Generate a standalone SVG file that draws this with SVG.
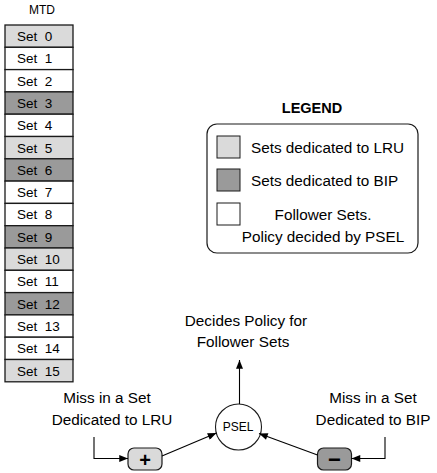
<svg xmlns="http://www.w3.org/2000/svg" width="437" height="473" viewBox="0 0 437 473">
<defs>
<marker id="arr" viewBox="0 0 10 8" refX="10" refY="4" markerWidth="10" markerHeight="7" markerUnits="userSpaceOnUse" orient="auto">
<path d="M0,0 L10,4 L0,8 Z" fill="#000"/>
</marker>
<style>
text{font-family:"Liberation Sans",Arial,Helvetica,sans-serif;fill:#000}
.cell text{font-size:13.5px;white-space:pre}
.cell rect{stroke:#1a1a1a;stroke-width:1.3}
.lt{fill:#dadada}
.dk{fill:#9a9a9a}
.wh{fill:#fff}
.body{font-size:15.3px}
.mid{text-anchor:middle}
.conn{fill:none;stroke:#000;stroke-width:1.1;marker-end:url(#arr)}
</style>
</defs>
<rect width="437" height="473" fill="#fff"/>
<text x="42" y="14" class="mid" style="font-size:12px">MTD</text>
<g id="mtd">
<g id="set0" class="cell"><rect x="5" y="25" width="68" height="22.3" class="lt"/><text x="17" y="41">Set  0</text></g>
<g id="set1" class="cell"><rect x="5" y="47.3" width="68" height="22.3" class="wh"/><text x="17" y="63.3">Set  1</text></g>
<g id="set2" class="cell"><rect x="5" y="69.6" width="68" height="22.3" class="wh"/><text x="17" y="85.6">Set  2</text></g>
<g id="set3" class="cell"><rect x="5" y="91.9" width="68" height="22.3" class="dk"/><text x="17" y="107.9">Set  3</text></g>
<g id="set4" class="cell"><rect x="5" y="114.2" width="68" height="22.3" class="wh"/><text x="17" y="130.2">Set  4</text></g>
<g id="set5" class="cell"><rect x="5" y="136.5" width="68" height="22.3" class="lt"/><text x="17" y="152.5">Set  5</text></g>
<g id="set6" class="cell"><rect x="5" y="158.8" width="68" height="22.3" class="dk"/><text x="17" y="174.8">Set  6</text></g>
<g id="set7" class="cell"><rect x="5" y="181.1" width="68" height="22.3" class="wh"/><text x="17" y="197.1">Set  7</text></g>
<g id="set8" class="cell"><rect x="5" y="203.4" width="68" height="22.3" class="wh"/><text x="17" y="219.4">Set  8</text></g>
<g id="set9" class="cell"><rect x="5" y="225.7" width="68" height="22.3" class="dk"/><text x="17" y="241.7">Set  9</text></g>
<g id="set10" class="cell"><rect x="5" y="248" width="68" height="22.3" class="lt"/><text x="17" y="264">Set  10</text></g>
<g id="set11" class="cell"><rect x="5" y="270.3" width="68" height="22.3" class="wh"/><text x="17" y="286.3">Set  11</text></g>
<g id="set12" class="cell"><rect x="5" y="292.6" width="68" height="22.3" class="dk"/><text x="17" y="308.6">Set  12</text></g>
<g id="set13" class="cell"><rect x="5" y="314.9" width="68" height="22.3" class="wh"/><text x="17" y="330.9">Set  13</text></g>
<g id="set14" class="cell"><rect x="5" y="337.2" width="68" height="22.3" class="wh"/><text x="17" y="353.2">Set  14</text></g>
<g id="set15" class="cell"><rect x="5" y="359.5" width="68" height="22.3" class="lt"/><text x="17" y="375.5">Set  15</text></g>
</g>
<g id="legend">
<text x="312" y="113" class="mid" style="font-size:14.5px;font-weight:bold">LEGEND</text>
<rect x="207" y="124" width="211" height="129" rx="10" fill="#fff" stroke="#1a1a1a" stroke-width="1.2"/>
<rect x="217" y="136" width="23" height="22" class="lt" stroke="#1a1a1a" stroke-width="1"/>
<rect x="217" y="169" width="23" height="22" class="dk" stroke="#1a1a1a" stroke-width="1"/>
<rect x="217" y="203" width="23" height="22" class="wh" stroke="#1a1a1a" stroke-width="1"/>
<text x="251" y="153" class="body">Sets dedicated to LRU</text>
<text x="251" y="186" class="body">Sets dedicated to BIP</text>
<text x="323" y="220" class="body mid">Follower Sets.</text>
<text x="323" y="242" class="body mid">Policy decided by PSEL</text>
</g>
<g id="psel">
<circle cx="238.5" cy="427" r="23" fill="#fff" stroke="#1a1a1a" stroke-width="1.1"/>
<text x="238" y="431" class="mid" style="font-size:12px">PSEL</text>
</g>
<g id="inc">
<rect x="128" y="448" width="34" height="22" rx="6" class="lt" stroke="#1a1a1a" stroke-width="1.2"/>
<text x="145" y="466.5" class="mid" style="font-size:20px;font-weight:bold">+</text>
</g>
<g id="dec">
<rect x="317.5" y="448" width="34" height="22" rx="6" class="dk" stroke="#1a1a1a" stroke-width="1.2"/>
<text x="334.5" y="467" class="mid" style="font-size:22px;font-weight:bold">−</text>
</g>
<g id="labels">
<text x="246" y="326" class="body mid">Decides Policy for</text>
<text x="243" y="347" class="body mid">Follower Sets</text>
<text x="107" y="403" class="body mid">Miss in a Set</text>
<text x="112" y="425" class="body mid">Dedicated to LRU</text>
<text x="373" y="403" class="body mid">Miss in a Set</text>
<text x="373" y="425" class="body mid">Dedicated to BIP</text>
</g>
<g id="connectors">
<polyline class="conn" points="94,437 94,458.5 128,458.5"/>
<polyline class="conn" points="385,437 385,458.5 351.5,458.5"/>
<line class="conn" x1="162" y1="456" x2="216.5" y2="433"/>
<line class="conn" x1="317.5" y1="455" x2="259" y2="433.5"/>
<line class="conn" x1="239.5" y1="404" x2="239.5" y2="360"/>
</g>
</svg>
